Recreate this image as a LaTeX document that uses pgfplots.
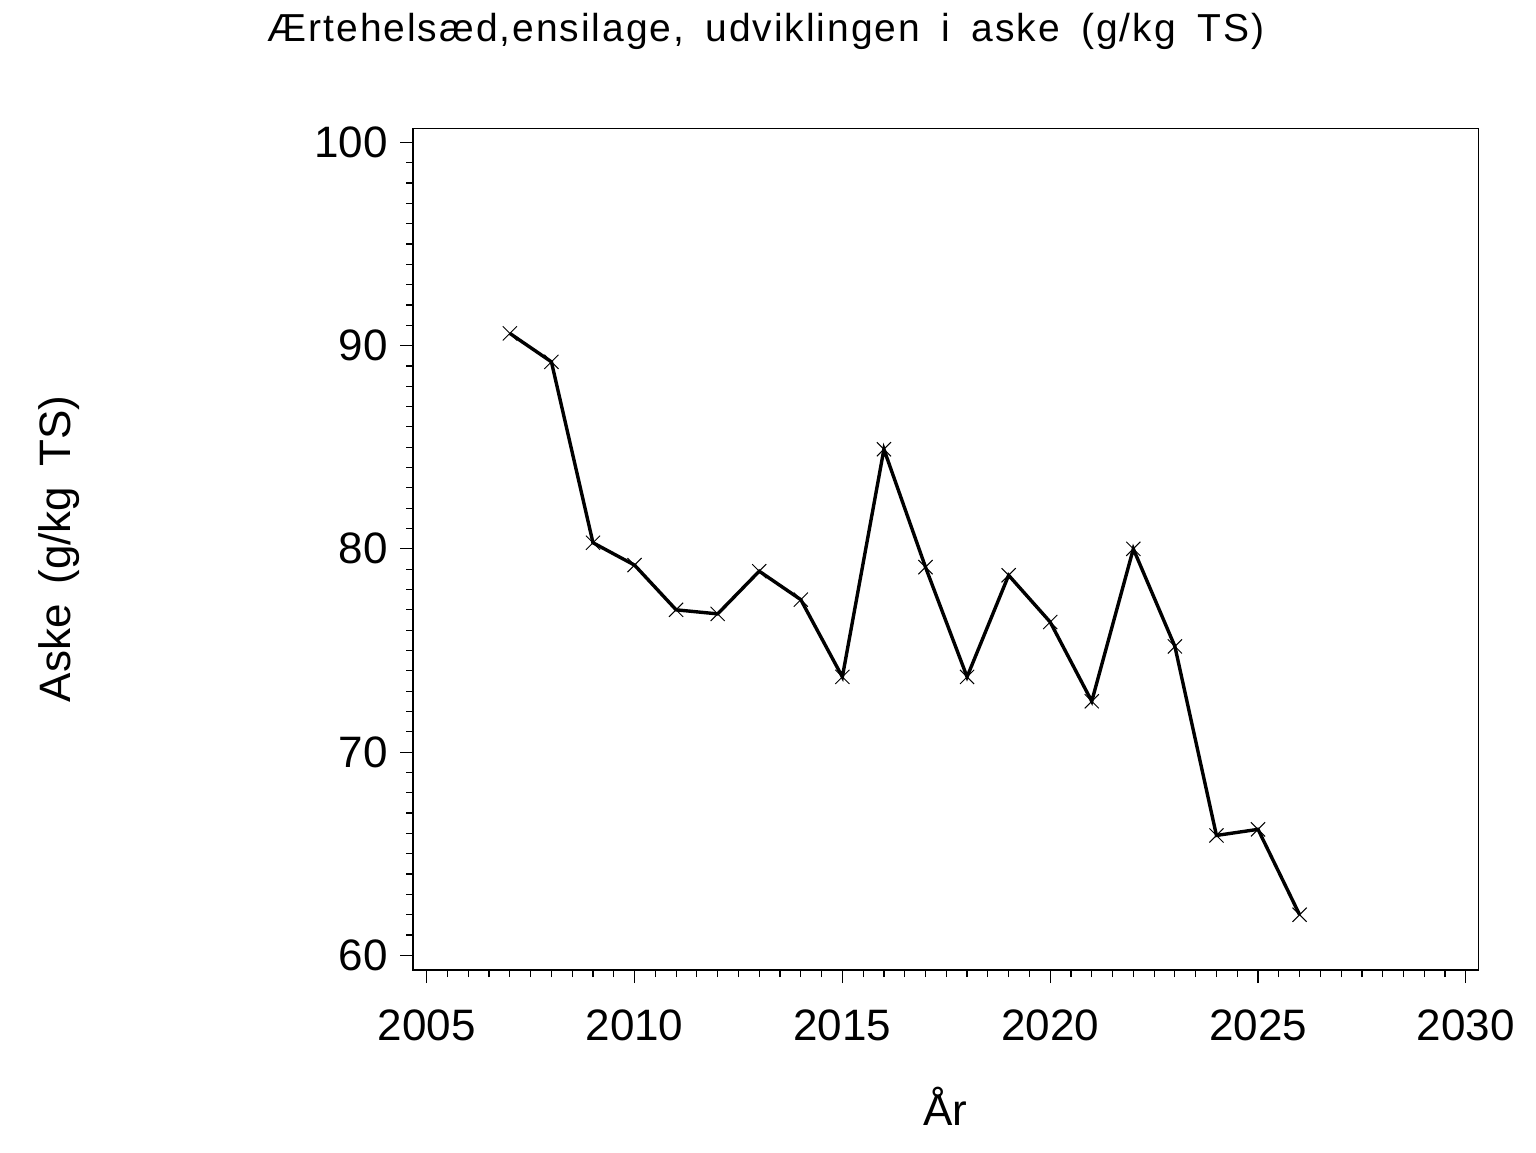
\documentclass[border=0pt]{standalone}
\usepackage{fontspec}
\setmainfont{Liberation Sans}
\newfontfamily\titlefont[LetterSpace=5]{Liberation Sans}
\usepackage{pgfplots}
\pgfplotsset{compat=1.18}
\begin{document}
\begin{tikzpicture}
\path[use as bounding box] (0,0) rectangle (768pt,576pt);
\begin{axis}[
  at={(206.5pt,91pt)}, anchor=south west,
  scale only axis, width=532.65pt, height=420.85pt,
  xmin=2004.67, xmax=2030.30, ymin=59.28, ymax=100.69,
  xtick={2005,2010,...,2030}, ytick={60,70,...,100},
  minor x tick num=9, minor y tick num=9,
  xtick pos=bottom, ytick pos=left,
  tick align=outside,
  major tick length=6.5pt, minor tick length=3.5pt,
  axis line style={line width=0.6pt},
  every tick/.style={black, line width=0.6pt},
  /pgf/number format/assume math mode=true,
  /pgf/number format/1000 sep={},
  xticklabel style={font=\fontsize{22}{26}\selectfont, inner sep=0pt, anchor=north, yshift=-13pt},
  yticklabel style={font=\fontsize{22}{26}\selectfont, inner sep=0pt, anchor=east, xshift=-6pt},
  clip=false,
]
\addplot[black, line width=1.7pt, mark=x, mark size=5pt, mark options={line width=0.5pt, solid}] coordinates {
(2007,90.6) (2008,89.2) (2009,80.3) (2010,79.2) (2011,77.0) (2012,76.8)
(2013,78.9) (2014,77.5) (2015,73.7) (2016,84.9) (2017,79.1) (2018,73.7)
(2019,78.7) (2020,76.4) (2021,72.5) (2022,80.0) (2023,75.2) (2024,65.9)
(2025,66.2) (2026,62.0)
};
\end{axis}
\node[anchor=base, inner sep=0pt] at (383pt,555.2pt) {\titlefont\fontsize{19.5}{23}\selectfont Ærtehelsæd,ensilage,\hspace{0.55em}udviklingen\hspace{0.55em}i\hspace{0.55em}aske\hspace{0.55em}(g/kg\hspace{0.55em}TS)};
\node[anchor=base, inner sep=0pt] at (472.75pt,13.5pt) {\fontsize{22}{26}\selectfont År};
\node[anchor=base, inner sep=0pt, rotate=90] at (35pt,301.5pt) {\fontsize{22}{26}\selectfont Aske\hspace{0.45em}(g/kg\hspace{0.45em}TS)};
\end{tikzpicture}
\end{document}
